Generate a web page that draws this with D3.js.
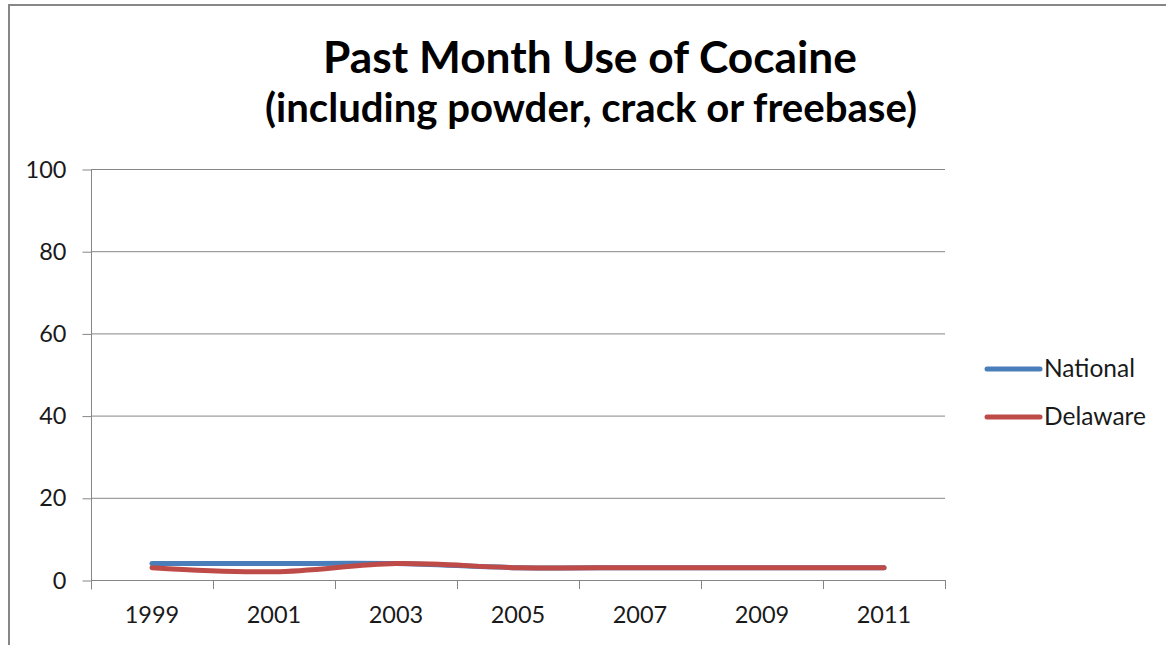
<!DOCTYPE html>
<html><head><meta charset="utf-8">
<script src="https://cdn.jsdelivr.net/npm/d3@7"></script>
<style>body{margin:0;background:#fff}svg{display:block}</style>
</head><body>
<svg id="chart" width="1166" height="645"></svg>
<script>
const years = ["1999","2001","2003","2005","2007","2009","2011"];
const national = [4,4,4,3,3,3,3];
const delaware = [3,2,4,3,3,3,3];
const yTicks = [0,20,40,60,80,100];
const seriesNames = ["National","Delaware"];
const seriesColors = ["#4A7EBB","#BE4B48"];
const titleLine1 = "Past Month Use of Cocaine";
const titleLine2 = "(including powder, crack or freebase)";

const svg = d3.select("#chart");
const font = "Lato, 'Open Sans', sans-serif";
const grid = "#868686";

// outer frame
svg.append("path").attr("d","M9,650 L9,5 L1170,5").attr("fill","none").attr("stroke","#878787").attr("stroke-width",2);

const m = {left:91, right:945, top:169, bottom:580};
const x = d3.scaleBand().domain(years).range([m.left,m.right]);
const y = d3.scaleLinear().domain([0,100]).range([m.bottom,m.top]);

// gridlines
svg.append("g").selectAll("line").data(yTicks.filter(d=>d>0)).join("line")
  .attr("x1",m.left).attr("x2",m.right).attr("y1",d=>y(d)+0.5).attr("y2",d=>y(d)+0.5)
  .attr("stroke",grid).attr("stroke-width",1);

// y axis
const ya = svg.append("g").attr("transform",`translate(${m.left+0.5},0.5)`)
  .call(d3.axisLeft(y).tickValues(yTicks).tickSize(9).tickPadding(16));
ya.select(".domain").attr("stroke",grid).attr("d",`M0,${m.top}V${m.bottom+9}`);
ya.selectAll(".tick line").attr("stroke",grid);
ya.selectAll("text").attr("font-family",font).attr("font-size",23.5).attr("fill","#1a1a1a");

// x axis
const xa = svg.append("g").attr("transform",`translate(0,${m.bottom+0.5})`)
  .call(d3.axisBottom(x).tickSize(0).tickPadding(26));
xa.select(".domain").attr("stroke",grid).attr("d",`M${m.left},0H${m.right}`);
xa.selectAll(".tick line").remove();
xa.selectAll("text").attr("font-family",font).attr("font-size",23.5).attr("fill","#1a1a1a");
svg.append("g").selectAll("line").data(years.concat(["end"])).join("line")
  .attr("x1",(d,i)=>Math.round(m.left + i*x.step())+0.5).attr("x2",(d,i)=>Math.round(m.left + i*x.step())+0.5)
  .attr("y1",m.bottom).attr("y2",m.bottom+9).attr("stroke",grid);

// lines
const line = d3.line().x((d,i)=>x(years[i])+x.bandwidth()/2).y(d=>y(d)).curve(d3.curveCatmullRom.alpha(0.5));
[national,delaware].forEach((s,k)=>{
  svg.append("path").datum(s).attr("d",line).attr("fill","none")
    .attr("stroke",seriesColors[k]).attr("stroke-width",5).attr("stroke-linecap","round").attr("stroke-linejoin","round");
});

// legend
seriesNames.forEach((n,k)=>{
  const ly = 369 + k*48;
  svg.append("line").attr("x1",987).attr("x2",1040).attr("y1",ly).attr("y2",ly)
    .attr("stroke",seriesColors[k]).attr("stroke-width",5).attr("stroke-linecap","round");
  svg.append("text").attr("x",1044).attr("y",ly+8).text(n)
    .attr("font-family",font).attr("font-size",24.5).attr("fill","#1a1a1a");
});

// titles
const t1 = svg.append("text").attr("x",590).attr("y",73).attr("text-anchor","middle")
  .attr("font-family",font).attr("font-weight","bold").attr("font-size",36).attr("fill","#000").text(titleLine1);
const t2 = svg.append("text").attr("x",591).attr("y",122).attr("text-anchor","middle")
  .attr("font-family",font).attr("font-weight","bold").attr("font-size",31).attr("fill","#000").text(titleLine2);
// fit widths to reference
[[t1,534,36],[t2,652,31]].forEach(([t,w,fs])=>{
  const cw = t.node().getComputedTextLength();
  t.attr("font-size", fs*w/cw);
});
</script>
</body></html>
